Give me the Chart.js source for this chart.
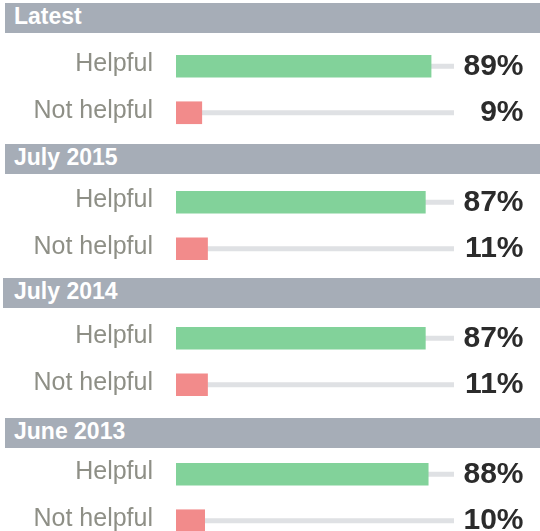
<!DOCTYPE html>
<html>
<head>
<meta charset="utf-8">
<script src="https://cdn.jsdelivr.net/npm/chart.js@4"></script>
<style>
  html, body { margin: 0; padding: 0; background: #fff; overflow: hidden; }
  #wrap { position: relative; width: 540px; height: 531px; overflow: hidden; }
  .head {
    position: absolute; right: 0; height: 30px; line-height: 30px;
    background: #a6adb7; color: #fff;
    font: bold 23px "Liberation Sans", Arial, sans-serif;
  }
  canvas { position: absolute; left: 0; }
</style>
</head>
<body>
<div id="wrap"></div>
<script>
const sections = ['Latest', 'July 2015', 'July 2014', 'June 2013'];
const categories = ['Helpful', 'Not helpful'];
const helpful = [89, 87, 87, 88];
const notHelpful = [9, 11, 11, 10];

// layout of each block (header top / left, chart top)
const headTop = [3, 144, 278, 417.5];
const headLeft = [5, 5, 2.5, 5];
const chartTop = [43, 179, 315, 451];

const trackPlugin = {
    id: 'track',
    beforeDatasetsDraw(chart) {
        const { ctx, chartArea } = chart;
        ctx.save();
        ctx.fillStyle = '#dfe1e4';
        chart.getDatasetMeta(0).data.forEach(function (bar) {
            ctx.fillRect(chartArea.left, bar.y - 2.5, chartArea.right - chartArea.left, 5);
        });
        ctx.restore();
    },
    afterDatasetsDraw(chart) {
        const ctx = chart.ctx;
        const values = chart.data.datasets[0].data;
        ctx.save();
        ctx.font = 'bold 30px "Liberation Sans", Arial, sans-serif';
        ctx.fillStyle = '#2b2b2b';
        ctx.textAlign = 'right';
        ctx.textBaseline = 'middle';
        chart.getDatasetMeta(0).data.forEach(function (bar, i) {
            ctx.fillText(values[i] + '%', chart.width - 16.5, bar.y);
        });
        ctx.restore();
    }
};

const wrap = document.getElementById('wrap');

sections.forEach(function (name, i) {
    const head = document.createElement('div');
    head.className = 'head';
    head.style.top = headTop[i] + 'px';
    head.style.left = headLeft[i] + 'px';
    head.style.paddingLeft = (14 - headLeft[i]) + 'px';
    head.textContent = name;
    wrap.appendChild(head);

    const canvas = document.createElement('canvas');
    canvas.width = 540;
    canvas.height = 93;
    canvas.style.top = chartTop[i] + 'px';
    wrap.appendChild(canvas);

    new Chart(canvas, {
        type: 'bar',
        data: {
            labels: categories,
            datasets: [{
                data: [helpful[i], notHelpful[i]],
                backgroundColor: ['#82d29a', '#f28b8b'],
                barThickness: 22,
            }]
        },
        options: {
            indexAxis: 'y',
            responsive: false,
            animation: false,
            layout: { padding: { left: 0, right: 86, top: 0, bottom: 0 } },
            plugins: { legend: { display: false }, tooltip: { enabled: false } },
            scales: {
                x: {
                    min: 0,
                    max: 97,
                    display: false,
                },
                y: {
                    grid: { display: false, drawTicks: false },
                    border: { display: false },
                    afterFit: function (scale) {
                        // fixed label column, no extra vertical room for labels
                        scale.width = 176;
                        scale.paddingTop = 0;
                        scale.paddingBottom = 0;
                    },
                    ticks: {
                        padding: 23,
                        labelOffset: -2,
                        color: '#8e8f86',
                        font: { family: '"Liberation Sans", Arial, sans-serif', size: 25 },
                    }
                }
            }
        },
        plugins: [trackPlugin]
    });
});
</script>
</body>
</html>
